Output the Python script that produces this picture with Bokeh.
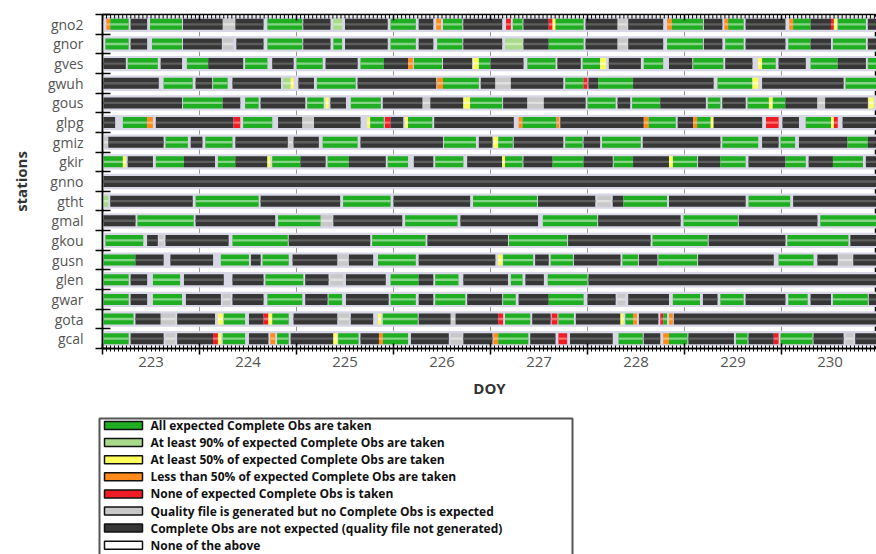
from bokeh.plotting import figure
from bokeh.models import Range1d, FixedTicker, LinearAxis, ColumnDataSource, Grid, CustomLabelingPolicy
from bokeh.layouts import column
from bokeh.embed import file_html
from bokeh.resources import INLINE
from bokeh.core.properties import value

stations = ["gno2", "gnor", "gves", "gwuh", "gous", "glpg", "gmiz", "gkir", "gnno",
            "gtht", "gmal", "gkou", "gusn", "glen", "gwar", "gota", "gcal"]
day_labels = [223, 224, 225, 226, 227, 228, 229, 230]
day_bounds = [222.5, 223.5, 224.5, 225.5, 226.5, 227.5, 228.5, 229.5, 230.5]

# status codes: G all taken, L >=90%, Y >=50%, O <50%, R none taken,
# Q quality file but none expected, K not expected, N none of the above
gno2 = [(222.54, 222.58, "O"), (222.58, 222.77, "G"), (222.79, 222.96, "K"), (222.99, 223.32, "G"),
        (223.33, 223.74, "K"), (223.74, 223.87, "Q"), (223.87, 224.16, "K"), (224.20, 224.56, "G"),
        (224.57, 224.85, "K"), (224.88, 224.97, "L"), (225.00, 225.44, "K"), (225.47, 225.73, "G"),
        (225.76, 225.91, "K"), (225.94, 225.99, "O"), (226.01, 226.21, "G"), (226.22, 226.62, "K"),
        (226.66, 226.71, "R"), (226.73, 226.83, "G"), (226.84, 227.10, "K"), (227.10, 227.14, "R"),
        (227.14, 227.17, "Y"), (227.17, 227.46, "G"), (227.48, 227.81, "K"), (227.81, 227.91, "Q"),
        (227.92, 228.28, "K"), (228.32, 228.37, "O"), (228.37, 228.69, "G"), (228.70, 228.89, "K"),
        (228.91, 228.95, "O"), (228.95, 229.11, "G"), (229.13, 229.54, "K"), (229.58, 229.62, "O"),
        (229.62, 229.80, "G"), (229.80, 230.01, "K"), (230.01, 230.04, "R"), (230.04, 230.07, "Y"),
        (230.08, 230.37, "G"), (230.39, 230.48, "K")]
gnor = [(222.53, 222.77, "G"), (222.79, 222.96, "K"), (223.01, 223.32, "G"), (223.33, 223.73, "K"),
        (223.74, 223.85, "Q"), (223.88, 224.16, "K"), (224.20, 224.56, "G"), (224.57, 224.85, "K"),
        (224.88, 224.97, "G"), (225.00, 225.44, "K"), (225.47, 225.73, "G"), (225.76, 225.91, "K"),
        (225.95, 226.21, "G"), (226.22, 226.62, "K"), (226.65, 226.83, "L"), (226.84, 227.10, "K"),
        (227.10, 227.46, "G"), (227.48, 227.81, "K"), (227.81, 227.91, "Q"), (227.92, 228.28, "K"),
        (228.32, 228.69, "G"), (228.70, 228.89, "K"), (228.92, 229.11, "G"), (229.13, 229.54, "K"),
        (229.57, 229.80, "G"), (229.80, 230.01, "K"), (230.03, 230.37, "G"), (230.39, 230.48, "K")]
gves = [(222.51, 222.74, "K"), (222.76, 223.07, "G"), (223.10, 223.32, "K"), (223.37, 223.59, "G"),
        (223.59, 223.95, "K"), (223.97, 224.20, "G"), (224.25, 224.47, "K"), (224.50, 224.77, "G"),
        (224.80, 225.13, "K"), (225.16, 225.40, "G"), (225.40, 225.65, "K"), (225.65, 225.70, "O"),
        (225.71, 226.00, "G"), (226.01, 226.31, "K"), (226.32, 226.38, "Y"), (226.38, 226.50, "G"),
        (226.50, 226.84, "K"), (226.88, 227.17, "G"), (227.19, 227.43, "K"), (227.45, 227.63, "G"),
        (227.63, 227.69, "Y"), (227.72, 228.05, "K"), (228.08, 228.28, "G"), (228.34, 228.58, "K"),
        (228.59, 228.90, "G"), (228.92, 229.20, "K"), (229.26, 229.30, "Y"), (229.30, 229.44, "G"),
        (229.47, 229.75, "K"), (229.80, 230.08, "G"), (230.08, 230.37, "K"), (230.39, 230.48, "G")]
gwuh = [(222.51, 223.08, "K"), (223.13, 223.43, "G"), (223.46, 223.63, "K"), (223.64, 223.79, "G"),
        (223.84, 224.34, "K"), (224.36, 224.44, "L"), (224.44, 224.47, "Y"), (224.52, 224.68, "K"),
        (224.71, 225.11, "G"), (225.13, 225.94, "K"), (225.95, 226.01, "O"), (226.01, 226.38, "G"),
        (226.40, 226.55, "K"), (226.55, 226.71, "Q"), (226.71, 227.25, "K"), (227.27, 227.46, "G"),
        (227.46, 227.50, "R"), (227.51, 227.61, "K"), (227.61, 227.97, "G"), (227.97, 228.80, "K"),
        (228.84, 229.20, "G"), (229.20, 229.26, "Y"), (229.30, 230.14, "K"), (230.16, 230.48, "G")]
gous = [(222.51, 223.32, "K"), (223.33, 223.74, "G"), (223.74, 223.92, "K"), (223.97, 224.11, "G"),
        (224.13, 224.59, "K"), (224.61, 224.78, "G"), (224.80, 224.83, "Y"), (224.85, 225.01, "K"),
        (225.06, 225.37, "G"), (225.39, 225.80, "K"), (225.80, 225.88, "Q"), (225.88, 226.22, "K"),
        (226.22, 226.29, "Y"), (226.29, 226.62, "G"), (226.63, 226.88, "K"), (226.88, 227.05, "Q"),
        (227.05, 227.48, "K"), (227.50, 227.79, "G"), (227.81, 227.94, "K"), (227.96, 228.25, "G"),
        (228.25, 228.72, "K"), (228.74, 228.87, "G"), (228.89, 229.13, "K"), (229.15, 229.37, "G"),
        (229.37, 229.41, "Y"), (229.41, 229.54, "G"), (229.54, 229.87, "K"), (229.87, 229.95, "Q"),
        (229.95, 230.39, "K"), (230.40, 230.45, "Y")]
glpg = [(222.51, 222.63, "K"), (222.71, 222.96, "G"), (222.96, 223.02, "O"), (223.05, 223.85, "K"),
        (223.85, 223.92, "R"), (223.95, 224.25, "G"), (224.31, 224.56, "K"), (224.56, 224.67, "Q"),
        (224.68, 225.16, "K"), (225.23, 225.26, "Y"), (225.26, 225.40, "G"), (225.41, 225.47, "R"),
        (225.47, 225.60, "K"), (225.62, 225.65, "Y"), (225.65, 225.90, "G"), (225.92, 226.74, "K"),
        (226.79, 226.83, "O"), (226.83, 227.18, "G"), (227.18, 227.21, "O"), (227.22, 228.08, "K"),
        (228.08, 228.13, "O"), (228.13, 228.41, "G"), (228.43, 228.59, "K"), (228.59, 228.63, "O"),
        (228.63, 228.77, "G"), (228.77, 228.80, "Y"), (228.80, 229.30, "K"), (229.34, 229.47, "R"),
        (229.51, 229.68, "K"), (229.75, 230.01, "G"), (230.01, 230.04, "Y"), (230.04, 230.08, "R"),
        (230.13, 230.48, "K")]
gmiz = [(222.51, 222.56, "Q"), (222.56, 223.13, "K"), (223.15, 223.38, "G"), (223.41, 223.53, "K"),
        (223.56, 223.84, "G"), (223.87, 224.41, "K"), (224.42, 224.46, "Q"), (224.47, 224.73, "K"),
        (224.77, 225.13, "G"), (225.16, 226.01, "K"), (226.02, 226.35, "G"), (226.38, 226.52, "K"),
        (226.53, 226.58, "Y"), (226.58, 226.73, "G"), (226.74, 227.25, "K"), (227.27, 227.45, "G"),
        (227.46, 227.63, "K"), (227.65, 228.05, "G"), (228.07, 228.87, "K"), (228.89, 229.26, "G"),
        (229.30, 229.47, "K"), (229.49, 229.64, "G"), (229.68, 230.18, "K"), (230.18, 230.39, "G"),
        (230.39, 230.48, "K")]
gkir = [(222.51, 222.71, "G"), (222.71, 222.74, "Y"), (222.76, 223.02, "K"), (223.05, 223.34, "G"),
        (223.34, 223.66, "K"), (223.69, 223.87, "G"), (223.87, 224.20, "K"), (224.20, 224.23, "Y"),
        (224.25, 224.54, "G"), (224.54, 224.80, "K"), (224.82, 225.04, "G"), (225.04, 225.42, "K"),
        (225.44, 225.65, "G"), (225.71, 225.91, "K"), (225.93, 226.22, "G"), (226.26, 226.62, "K"),
        (226.62, 226.65, "Y"), (226.65, 226.83, "G"), (226.84, 227.14, "K"), (227.14, 227.46, "G"),
        (227.46, 227.76, "K"), (227.77, 227.97, "G"), (227.97, 228.34, "K"), (228.34, 228.38, "Y"),
        (228.38, 228.63, "G"), (228.64, 228.87, "K"), (228.87, 229.13, "G"), (229.16, 229.54, "K"),
        (229.54, 229.75, "G"), (229.78, 230.03, "K"), (230.03, 230.34, "G"), (230.37, 230.48, "K")]
gnno = [(222.51, 230.48, "K")]
gtht = [(222.51, 222.56, "L"), (222.58, 223.43, "K"), (223.46, 224.11, "G"), (224.13, 224.95, "K"),
        (224.98, 225.47, "G"), (225.50, 226.29, "K"), (226.32, 226.98, "G"), (226.99, 227.58, "K"),
        (227.60, 227.74, "Q"), (227.76, 227.87, "K"), (227.87, 228.32, "G"), (228.34, 229.13, "K"),
        (229.16, 229.59, "G"), (229.62, 230.48, "K")]
gmal = [(222.51, 222.84, "K"), (222.86, 223.44, "G"), (223.46, 224.28, "K"), (224.31, 224.75, "G"),
        (224.75, 224.87, "Q"), (224.88, 225.59, "K"), (225.62, 226.16, "G"), (226.19, 226.99, "K"),
        (227.04, 227.60, "G"), (227.61, 228.46, "K"), (228.49, 229.05, "G"), (229.06, 229.87, "K"),
        (229.90, 230.48, "G")]
gkou = [(222.53, 222.92, "G"), (222.96, 223.07, "K"), (223.08, 223.13, "Q"), (223.15, 223.80, "K"),
        (223.84, 224.41, "G"), (224.42, 225.26, "K"), (225.28, 225.83, "G"), (225.85, 226.68, "K"),
        (226.69, 227.29, "G"), (227.30, 228.15, "K"), (228.17, 228.74, "G"), (228.75, 229.54, "K"),
        (229.56, 230.19, "G"), (230.21, 230.48, "K")]
gusn = [(222.51, 222.84, "G"), (222.84, 223.13, "K"), (223.20, 223.64, "K"), (223.72, 224.01, "G"),
        (224.03, 224.13, "K"), (224.15, 224.42, "G"), (224.46, 224.92, "K"), (224.93, 225.03, "Q"),
        (225.04, 225.29, "K"), (225.34, 225.73, "G"), (225.76, 226.55, "K"), (226.58, 226.62, "Y"),
        (226.63, 226.94, "G"), (226.96, 227.10, "K"), (227.12, 227.35, "G"), (227.36, 227.84, "K"),
        (227.86, 228.02, "G"), (228.03, 228.22, "K"), (228.23, 228.63, "G"), (228.64, 229.42, "K"),
        (229.47, 229.83, "G"), (229.87, 230.08, "K"), (230.09, 230.23, "Q"), (230.24, 230.48, "K")]
glen = [(222.51, 222.77, "G"), (222.79, 222.96, "K"), (223.02, 223.30, "G"), (223.34, 223.75, "K"),
        (223.84, 224.16, "K"), (224.18, 224.57, "G"), (224.59, 224.83, "K"), (224.85, 224.98, "Q"),
        (225.01, 225.42, "K"), (225.47, 225.76, "G"), (225.76, 225.91, "K"), (225.93, 226.17, "G"),
        (226.22, 226.68, "K"), (226.71, 226.83, "G"), (226.86, 227.05, "K"), (227.09, 227.50, "G"),
        (227.51, 230.48, "K")]
gwar = [(222.51, 222.77, "G"), (222.79, 222.96, "K"), (223.02, 223.32, "G"), (223.36, 223.72, "K"),
        (223.74, 223.82, "Q"), (223.84, 224.16, "K"), (224.20, 224.56, "G"), (224.59, 224.82, "K"),
        (224.83, 224.97, "G"), (225.01, 225.45, "K"), (225.47, 225.73, "G"), (225.76, 225.91, "K"),
        (225.93, 226.24, "G"), (226.26, 226.62, "K"), (226.63, 226.76, "G"), (226.79, 227.10, "K"),
        (227.10, 227.46, "G"), (227.50, 227.79, "K"), (227.81, 227.89, "Q"), (227.92, 228.34, "K"),
        (228.38, 228.66, "G"), (228.69, 228.84, "K"), (228.87, 229.11, "G"), (229.13, 229.54, "K"),
        (229.57, 229.77, "G"), (229.80, 230.01, "K"), (230.03, 230.39, "G"), (230.40, 230.48, "K")]
gota = [(222.51, 222.82, "G"), (222.84, 223.10, "K"), (223.10, 223.25, "Q"), (223.27, 223.66, "K"),
        (223.69, 223.74, "Y"), (223.75, 223.97, "G"), (224.01, 224.16, "K"), (224.16, 224.21, "R"),
        (224.21, 224.25, "Y"), (224.25, 224.42, "G"), (224.47, 224.92, "K"), (224.93, 225.04, "Q"),
        (225.06, 225.29, "K"), (225.34, 225.37, "Y"), (225.39, 225.75, "G"), (225.76, 226.09, "K"),
        (226.09, 226.14, "Q"), (226.14, 226.58, "K"), (226.58, 226.63, "R"), (226.65, 226.91, "G"),
        (226.93, 227.12, "K"), (227.13, 227.19, "R"), (227.20, 227.36, "G"), (227.38, 227.84, "K"),
        (227.84, 227.87, "Y"), (227.89, 227.97, "G"), (227.97, 228.01, "O"), (228.03, 228.23, "K"),
        (228.25, 228.28, "R"), (228.28, 228.32, "G"), (228.34, 228.38, "O"), (228.39, 230.48, "K")]
gcal = [(222.51, 222.77, "G"), (222.79, 223.13, "K"), (223.15, 223.25, "Q"), (223.27, 223.64, "K"),
        (223.64, 223.69, "R"), (223.69, 223.72, "Y"), (223.74, 223.97, "G"), (224.01, 224.21, "K"),
        (224.23, 224.28, "O"), (224.30, 224.42, "G"), (224.44, 224.88, "K"), (224.88, 224.92, "Y"),
        (224.93, 225.14, "G"), (225.16, 225.35, "K"), (225.35, 225.39, "O"), (225.39, 225.65, "G"),
        (225.68, 226.07, "K"), (226.09, 226.21, "Q"), (226.22, 226.52, "K"), (226.53, 226.58, "O"),
        (226.58, 226.89, "G"), (226.91, 227.17, "K"), (227.20, 227.29, "R"), (227.32, 227.76, "K"),
        (227.82, 228.07, "G"), (228.08, 228.25, "K"), (228.28, 228.34, "O"), (228.34, 228.53, "G"),
        (228.54, 229.01, "K"), (229.03, 229.15, "G"), (229.16, 229.42, "K"), (229.42, 229.47, "R"),
        (229.49, 229.82, "G"), (229.83, 230.14, "K"), (230.16, 230.24, "Q"), (230.26, 230.48, "K")]

station_segments = [gno2, gnor, gves, gwuh, gous, glpg, gmiz, gkir, gnno,
                    gtht, gmal, gkou, gusn, glen, gwar, gota, gcal]

legend_codes = ["G", "L", "Y", "O", "R", "Q", "K", "N"]
legend_labels = ["All expected Complete Obs are taken",
                 "At least 90% of expected Complete Obs are taken",
                 "At least 50% of expected Complete Obs are taken",
                 "Less than 50% of expected Complete Obs are taken",
                 "None of expected Complete Obs is taken",
                 "Quality file is generated but no Complete Obs is expected",
                 "Complete Obs are not expected (quality file not generated)",
                 "None of the above"]

fill = {"G": "#1fae22", "L": "#a9d98a", "Y": "#ffff5c", "O": "#ff8a1c", "R": "#ee1c24",
        "Q": "#c8c8c8", "K": "#363636", "N": "#ffffff"}
inner = {"G": "#86d486", "L": "#cdebb8", "Y": "#ffffb4", "O": "#ffb870", "R": "#ff7070",
         "Q": "#e0e0e0", "K": "#5e5e5e", "N": "#ffffff"}

n = len(stations)
W = 876
FRAME_L, FRAME_T, FRAME_B, MAIN_H = 102, 14, 348, 405
XMIN = 222.5
XMAX = XMIN + (W - FRAME_L) / 97.0
PX = (FRAME_B - FRAME_T) / n  # pixels per row unit

p = figure(width=W, height=MAIN_H, x_range=Range1d(XMIN, XMAX), y_range=Range1d(-0.5, n - 0.5),
           x_axis_type=None, y_axis_type=None, output_backend="svg", toolbar_location=None,
           min_border_left=FRAME_L, min_border_right=0, min_border_top=FRAME_T,
           min_border_bottom=MAIN_H - FRAME_B, background_fill_color="white")
p.outline_line_color = "black"
p.outline_line_width = 1.5

# vertical day-boundary grid (visible only in the gaps between rows)
p.add_layout(Grid(dimension=0, ticker=FixedTicker(ticks=day_bounds), grid_line_color="#9a9a9a",
                  grid_line_width=1))

# row bands
ys = [n - 1 - i for i in range(n)]
band = ColumnDataSource(dict(bottom=[y - 0.39 for y in ys], top=[y + 0.39 for y in ys]))
p.quad(left=XMIN - 1, right=XMAX + 1, bottom="bottom", top="top", source=band,
       fill_color="#d7d7e5", line_color=None)

L, R, B, T, C, IC, IB, IT = [], [], [], [], [], [], [], []
for i, segs in enumerate(station_segments):
    y = n - 1 - i
    for s, e, code in segs:
        L.append(s); R.append(e); B.append(y - 0.28); T.append(y + 0.28)
        C.append(fill[code]); IC.append(inner[code])
        IB.append(y - 0.06); IT.append(y + 0.06)
bars = ColumnDataSource(dict(left=L, right=R, bottom=B, top=T, color=C, icolor=IC, ib=IB, it=IT))
p.quad(left="left", right="right", bottom="bottom", top="top", fill_color="color",
       line_color=None, source=bars)
p.quad(left="left", right="right", bottom="ib", top="it", fill_color="icolor",
       line_color=None, source=bars)

# ticks along the top edge, pointing inward
hours = [XMIN + k / 24 for k in range(0, 193)]
top_y = n - 0.5
p.segment(x0=hours, x1=hours, y0=top_y, y1=top_y - 4 / PX, line_color="black", line_width=1)
p.segment(x0=day_bounds, x1=day_bounds, y0=top_y, y1=top_y - 6 / PX, line_color="black",
          line_width=1.5)

# y axis
yax = LinearAxis(ticker=FixedTicker(ticks=ys, minor_ticks=[k - 0.5 for k in range(n + 1)]),
                 major_label_overrides={n - 1 - i: s for i, s in enumerate(stations)},
                 major_tick_line_color=None, major_tick_out=0, major_tick_in=0,
                 minor_tick_in=8, minor_tick_out=7, minor_tick_line_color="black",
                 minor_tick_line_width=1.5, axis_line_color="black", axis_line_width=1.5,
                 major_label_standoff=12, major_label_text_font="Open Sans",
                 major_label_text_font_size="14px", major_label_text_color="#555555",
                 axis_label="stations", axis_label_standoff=14,
                 axis_label_text_font="Open Sans", axis_label_text_font_style="bold",
                 axis_label_text_font_size="15px", axis_label_text_color="#333333")
p.add_layout(yax, "left")

no_labels = CustomLabelingPolicy(code="for (const i of indices) { indices.unset(i) } return indices")
# bottom axis with ticks only
xa = LinearAxis(ticker=FixedTicker(ticks=day_bounds, minor_ticks=hours),
                major_label_policy=no_labels,
                major_label_text_font_size="0px", major_label_standoff=0,
                major_tick_in=5, major_tick_out=6, major_tick_line_width=1.5,
                minor_tick_in=3, minor_tick_out=3, minor_tick_line_width=1,
                axis_line_color="black", axis_line_width=1.5)
p.add_layout(xa, "below")
# bottom labels
xb = LinearAxis(ticker=FixedTicker(ticks=day_labels, minor_ticks=[]),
                axis_line_color=None, major_tick_line_color=None, major_tick_in=0, major_tick_out=0,
                minor_tick_line_color=None, major_label_standoff=2,
                major_label_text_font="Open Sans", major_label_text_font_size="15px",
                major_label_text_color="#555555",
                axis_label="DOY", axis_label_standoff=8, axis_label_text_font="Open Sans",
                axis_label_text_font_style="bold", axis_label_text_font_size="15px",
                axis_label_text_color="#333333")
p.add_layout(xb, "below")

# legend panel (pixel coordinates)
LH = 554 - MAIN_H
leg = figure(width=W, height=LH, x_axis_type=None, y_axis_type=None, output_backend="svg",
             toolbar_location=None, min_border=0)
try:
    leg.frame_align = False
    x0 = 0
except Exception:
    x0 = FRAME_L
leg.x_range = Range1d(x0, W)
leg.y_range = Range1d(LH, 0)
leg.outline_line_color = None
leg.quad(left=[max(99, x0 + 1)], right=[572], top=[13], bottom=[LH + 20], fill_color=None,
         line_color="#555555", line_width=2)
ly = [20 + 17.1 * k for k in range(len(legend_labels))]
leg.quad(left=104, right=142, top=[y - 4 for y in ly], bottom=[y + 4 for y in ly],
         fill_color=[fill[c] for c in legend_codes], line_color="#111111", line_width=1.5)
leg.text(x=150, y=ly, text=legend_labels, text_font=value("Open Sans"), text_font_style="bold",
         text_font_size="12px", text_baseline="middle", text_color="#111111")

layout = column(p, leg)
open("out.html", "w").write(file_html(layout, INLINE))
